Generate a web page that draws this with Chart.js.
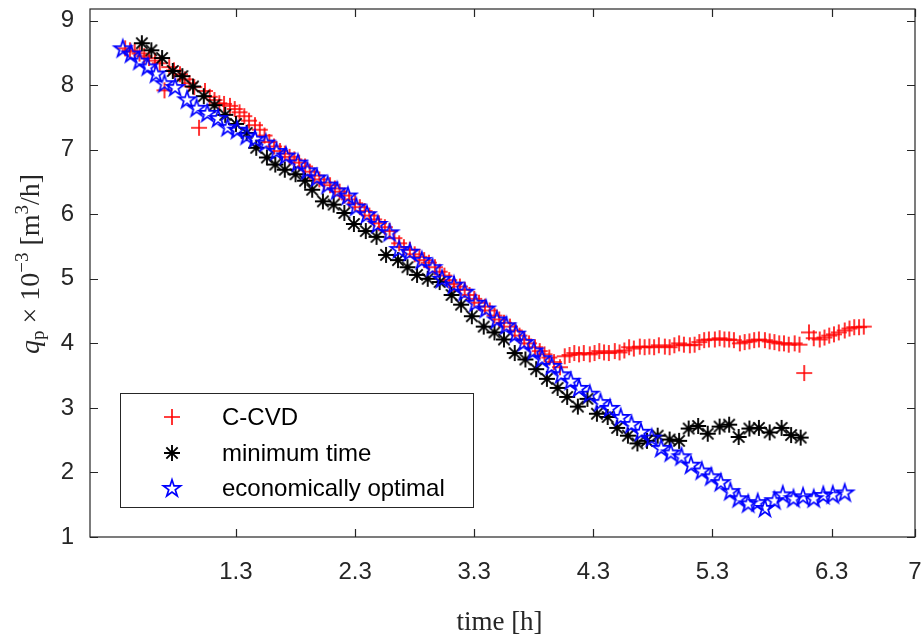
<!DOCTYPE html>
<html>
<head>
<meta charset="utf-8">
<title>q_p over time</title>
<script src="https://cdn.jsdelivr.net/npm/chart.js@4.4.1/dist/chart.umd.min.js"></script>
<style>
  html, body { margin: 0; padding: 0; background: #fff; }
  #wrap { width: 924px; height: 642px; }
</style>
</head>
<body>
<div id="wrap"><canvas id="qpChart" width="924" height="642"></canvas></div>
<script>
// ---- tick labels ----
const xTicks = [1.3, 2.3, 3.3, 4.3, 5.3, 6.3, 7];
const yTicks = [1, 2, 3, 4, 5, 6, 7, 8, 9];

// ---- C-CVD (red +) ----
const ccvdTime = [0.37,0.41,0.45,0.49,0.53,0.57,0.62,0.66,0.70,0.74,0.78,0.83,0.87,0.91,0.95,0.99,1.04,1.08,1.12,1.16,
  1.20,1.25,1.29,1.33,1.37,1.41,1.46,1.50,1.54,1.58,1.62,1.67,1.71,1.75,1.79,1.83,1.88,1.92,1.96,2.00,
  2.04,2.09,2.13,2.17,2.21,2.25,2.30,2.34,2.38,2.42,2.46,2.50,2.55,2.59,2.63,2.67,2.71,2.76,2.80,2.84,
  2.88,2.92,2.97,3.01,3.05,3.09,3.13,3.18,3.22,3.26,3.30,3.34,3.39,3.43,3.47,3.51,3.55,3.60,3.64,3.68,
  3.72,3.76,3.81,3.85,3.89,3.93,3.97,4.02,4.06,4.10,4.14,4.18,4.22,4.27,4.31,4.35,4.39,4.43,4.48,4.52,
  4.56,4.60,4.64,4.69,4.73,4.77,4.81,4.85,4.90,4.94,4.98,5.02,5.06,5.11,5.15,5.19,5.23,5.27,5.32,5.36,
  5.40,5.44,5.48,5.53,5.57,5.61,5.65,5.69,5.74,5.78,5.82,5.86,5.90,5.94,5.99,6.03,6.07,6.11,6.15,6.20,
  6.24,6.28,6.32,6.36,6.41,6.45,6.49,6.53,6.57];
const ccvdQp = [8.57,8.54,8.52,8.49,8.45,8.42,8.38,8.34,7.92,8.28,8.23,8.17,8.09,8.03,7.97,7.34,7.91,7.82,7.77,7.72,
  7.71,7.68,7.63,7.58,7.52,7.45,7.38,7.31,7.22,7.12,7.05,6.98,6.94,6.89,6.85,6.80,6.74,6.66,6.60,6.54,
  6.49,6.45,6.40,6.35,6.29,6.23,6.17,6.11,6.05,5.98,5.92,5.86,5.80,5.74,5.63,5.55,5.49,5.45,5.38,5.34,
  5.29,5.25,5.18,5.11,5.05,4.98,4.92,4.88,4.83,4.75,4.69,4.63,4.57,4.51,4.43,4.37,4.32,4.26,4.20,4.12,
  4.06,4.00,3.94,3.88,3.83,3.78,3.71,3.63,3.80,3.82,3.85,3.83,3.85,3.83,3.85,3.88,3.86,3.85,3.88,3.86,
  3.89,3.94,3.92,3.95,3.94,3.95,3.94,3.97,3.95,3.94,3.97,4.00,3.98,3.97,3.98,4.02,4.05,4.06,4.06,4.08,
  4.06,4.06,4.05,4.00,4.02,4.03,4.05,4.06,4.05,4.03,4.02,4.00,4.00,3.98,4.00,3.98,3.54,4.17,4.08,4.06,
  4.09,4.12,4.14,4.17,4.20,4.23,4.25,4.25,4.26];

// ---- minimum time (black *) ----
const minTime = [0.51,0.59,0.68,0.77,0.85,0.94,1.03,1.12,1.21,1.30,1.39,1.47,1.56,1.63,1.71,1.80,1.88,1.94,2.03,2.12,
  2.21,2.29,2.39,2.48,2.56,2.66,2.74,2.82,2.91,3.01,3.11,3.19,3.28,3.38,3.47,3.55,3.64,3.73,3.82,3.91,
  4.00,4.08,4.17,4.25,4.33,4.42,4.50,4.59,4.67,4.75,4.84,4.94,5.02,5.10,5.18,5.26,5.36,5.44,5.52,5.61,
  5.69,5.78,5.88,5.96,6.04];
const minQp = [8.65,8.54,8.42,8.22,8.14,7.98,7.83,7.69,7.54,7.40,7.26,7.03,6.88,6.77,6.69,6.62,6.52,6.38,6.20,6.15,
  6.02,5.85,5.74,5.65,5.37,5.29,5.18,5.06,5.00,4.95,4.75,4.60,4.42,4.26,4.17,4.06,3.85,3.75,3.60,3.45,
  3.31,3.17,3.02,3.14,2.91,2.86,2.69,2.57,2.45,2.49,2.57,2.51,2.49,2.68,2.72,2.60,2.71,2.74,2.55,2.68,
  2.69,2.62,2.69,2.58,2.54];

// ---- economically optimal (blue pentagram) ----
const ecoTime = [0.35,0.42,0.49,0.56,0.63,0.70,0.79,0.89,0.97,1.06,1.15,1.23,1.31,1.39,1.46,1.55,1.64,1.72,1.82,1.90,
  1.98,2.07,2.15,2.24,2.31,2.40,2.49,2.59,2.67,2.76,2.86,2.95,3.03,3.13,3.22,3.31,3.40,3.49,3.57,3.65,
  3.72,3.80,3.87,3.95,4.03,4.11,4.18,4.27,4.36,4.44,4.53,4.62,4.70,4.79,4.87,4.95,5.04,5.12,5.21,5.29,
  5.37,5.45,5.52,5.60,5.68,5.74,5.82,5.89,5.98,6.06,6.15,6.23,6.31,6.41];
const ecoQp = [8.57,8.49,8.38,8.29,8.18,8.03,7.97,7.78,7.65,7.57,7.49,7.35,7.31,7.22,7.17,7.11,6.98,6.91,6.80,6.68,
  6.57,6.46,6.37,6.29,6.12,6.00,5.85,5.72,5.46,5.42,5.29,5.18,5.00,4.91,4.80,4.63,4.54,4.37,4.28,4.15,
  4.02,3.89,3.77,3.65,3.52,3.42,3.31,3.22,3.09,3.00,2.86,2.75,2.63,2.54,2.38,2.31,2.25,2.12,2.03,1.94,
  1.85,1.71,1.60,1.52,1.54,1.45,1.57,1.66,1.60,1.63,1.60,1.65,1.66,1.69];

const AXIS_COLOR = '#262626';
const SANS = '"Liberation Sans", Arial, Helvetica, sans-serif';
const SERIF = '"Liberation Serif", "Times New Roman", serif';

// marker images (used as pointStyle and in the legend)
function markerCanvas(r, lw) {
  const size = Math.ceil(2 * r + 2 * lw + 2);
  const c = document.createElement('canvas');
  c.width = size; c.height = size;
  return c;
}
function plusMarker(r, color, lw) {
  const c = markerCanvas(r, lw), g = c.getContext('2d'), m = c.width / 2;
  g.strokeStyle = color; g.lineWidth = lw;
  g.beginPath();
  g.moveTo(m - r, m); g.lineTo(m + r, m);
  g.moveTo(m, m - r); g.lineTo(m, m + r);
  g.stroke();
  return c;
}
function asteriskMarker(r, color, lw) {
  const c = markerCanvas(r, lw), g = c.getContext('2d'), m = c.width / 2;
  g.strokeStyle = color; g.lineWidth = lw;
  g.beginPath();
  for (let i = 0; i < 4; i++) {
    const a = i * Math.PI / 4;
    g.moveTo(m - r * Math.cos(a), m - r * Math.sin(a));
    g.lineTo(m + r * Math.cos(a), m + r * Math.sin(a));
  }
  g.stroke();
  return c;
}
function pentagram(r, color, lw) {
  const c = markerCanvas(r, lw), g = c.getContext('2d');
  const cx = c.width / 2, cy = c.height / 2 + r * 0.08;
  g.beginPath();
  for (let i = 0; i < 10; i++) {
    const rr = i % 2 === 0 ? r : r * 0.382;
    const a = -Math.PI / 2 + i * Math.PI / 5;
    const px = cx + rr * Math.cos(a), py = cy + rr * Math.sin(a);
    if (i === 0) g.moveTo(px, py); else g.lineTo(px, py);
  }
  g.closePath();
  g.lineWidth = lw; g.strokeStyle = color; g.stroke();
  return c;
}

const toPoints = (xs, ys) => xs.map((t, i) => ({ x: t, y: ys[i] }));

const series = [
  { label: 'C-CVD', data: toPoints(ccvdTime, ccvdQp), marker: plusMarker(8, '#ff0000', 1.6), order: 3 },
  { label: 'minimum time', data: toPoints(minTime, minQp), marker: asteriskMarker(8, '#000000', 1.9), order: 2 },
  { label: 'economically optimal', data: toPoints(ecoTime, ecoQp), marker: pentagram(9, '#0000ff', 1.7), order: 1 }
];

// inward ticks + box, like the original axes
const axesBox = {
  id: 'axesBox',
  afterDatasetsDraw(chart) {
    const { ctx, chartArea: a, scales: { x, y } } = chart;
    ctx.save();
    ctx.strokeStyle = AXIS_COLOR;
    ctx.lineWidth = 1.2;
    ctx.beginPath();
    xTicks.forEach(v => {
      const px = Math.round(x.getPixelForValue(v)) + 0.5;
      ctx.moveTo(px, a.bottom); ctx.lineTo(px, a.bottom - 8);
      ctx.moveTo(px, a.top); ctx.lineTo(px, a.top + 8);
    });
    yTicks.forEach(v => {
      const py = Math.round(y.getPixelForValue(v)) + 0.5;
      ctx.moveTo(a.left, py); ctx.lineTo(a.left + 8, py);
      ctx.moveTo(a.right, py); ctx.lineTo(a.right - 8, py);
    });
    ctx.stroke();
    ctx.strokeRect(a.left, a.top, a.right - a.left, a.bottom - a.top);
    ctx.restore();
  }
};

// legend box inside the plot, bottom left
const legendBox = {
  id: 'legendBox',
  afterDraw(chart) {
    const ctx = chart.ctx;
    const bx = 120, by = 393, bw = 353, bh = 114;
    ctx.save();
    ctx.fillStyle = '#fff';
    ctx.fillRect(bx, by, bw, bh);
    ctx.strokeStyle = AXIS_COLOR;
    ctx.lineWidth = 1;
    ctx.strokeRect(bx + 0.5, by + 0.5, bw, bh);
    ctx.font = '24px ' + SANS;
    ctx.fillStyle = '#000';
    ctx.textBaseline = 'middle';
    const rows = [417, 453, 488];
    series.forEach((s, i) => {
      const img = s.marker;
      ctx.drawImage(img, 172 - img.width / 2, rows[i] - img.height / 2);
      ctx.fillText(s.label, 222, rows[i] + 1);
    });
    ctx.restore();
  }
};

// axis titles (LaTeX-like, serif)
const axisTitles = {
  id: 'axisTitles',
  afterDraw(chart) {
    const ctx = chart.ctx;
    const a = chart.chartArea;
    ctx.save();
    ctx.fillStyle = AXIS_COLOR;
    ctx.textBaseline = 'alphabetic';
    ctx.font = '27px ' + SERIF;
    ctx.textAlign = 'center';
    ctx.fillText('time [h]', (a.left + a.right) / 2 - 3, 630);

    // y label: q_p × 10^{-3} [m^3/h]
    const parts = [
      { t: 'q', f: 'italic 28px ' + SERIF, dy: 0 },
      { t: 'p', f: '19px ' + SERIF, dy: 5 },
      { t: ' × ', f: '28px ' + SERIF, dy: 0 },
      { t: '10', f: '28px ' + SERIF, dy: 0 },
      { t: '−3', f: '19px ' + SERIF, dy: -11 },
      { t: ' [m', f: '28px ' + SERIF, dy: 0 },
      { t: '3', f: '19px ' + SERIF, dy: -11 },
      { t: '/h]', f: '28px ' + SERIF, dy: 0 }
    ];
    let total = 0;
    parts.forEach(p => { ctx.font = p.f; p.w = ctx.measureText(p.t).width; total += p.w; });
    ctx.translate(30, 264);
    ctx.rotate(-Math.PI / 2);
    ctx.textAlign = 'left';
    let cx = -total / 2;
    parts.forEach(p => {
      ctx.font = p.f;
      ctx.fillText(p.t, cx, 9 + p.dy);
      cx += p.w;
    });
    ctx.restore();
  }
};

new Chart(document.getElementById('qpChart').getContext('2d'), {
  type: 'scatter',
  data: {
    datasets: series.map(s => ({
      label: s.label,
      data: s.data,
      pointStyle: s.marker,
      pointRadius: 8,
      pointHoverRadius: 8,
      borderColor: 'rgba(0,0,0,0)',
      backgroundColor: 'rgba(0,0,0,0)',
      order: s.order
    }))
  },
  options: {
    responsive: false,
    animation: false,
    devicePixelRatio: 1,
    layout: { padding: { top: 4, right: 7, bottom: 0, left: 0 } },
    plugins: {
      legend: { display: false },
      tooltip: { enabled: false }
    },
    scales: {
      x: {
        type: 'linear',
        min: 0.075,
        max: 7,
        grid: { display: false },
        border: { display: false },
        afterBuildTicks: scale => { scale.ticks = xTicks.map(v => ({ value: v })); },
        afterFit: scale => { scale.height = 105; scale.paddingLeft = 0; scale.paddingRight = 0; },
        ticks: {
          autoSkip: false,
          maxRotation: 0,
          padding: 13,
          color: AXIS_COLOR,
          font: { family: SANS, size: 24 },
          callback: v => String(v)
        }
      },
      y: {
        type: 'linear',
        min: 1,
        max: 9.18,
        grid: { display: false },
        border: { display: false },
        afterBuildTicks: scale => { scale.ticks = yTicks.map(v => ({ value: v })); },
        afterFit: scale => { scale.width = 90; scale.paddingTop = 0; scale.paddingBottom = 0; },
        ticks: {
          padding: 8,
          color: AXIS_COLOR,
          font: { family: SANS, size: 24 },
          callback: v => String(v)
        }
      }
    }
  },
  plugins: [axesBox, legendBox, axisTitles]
});
</script>
</body>
</html>
